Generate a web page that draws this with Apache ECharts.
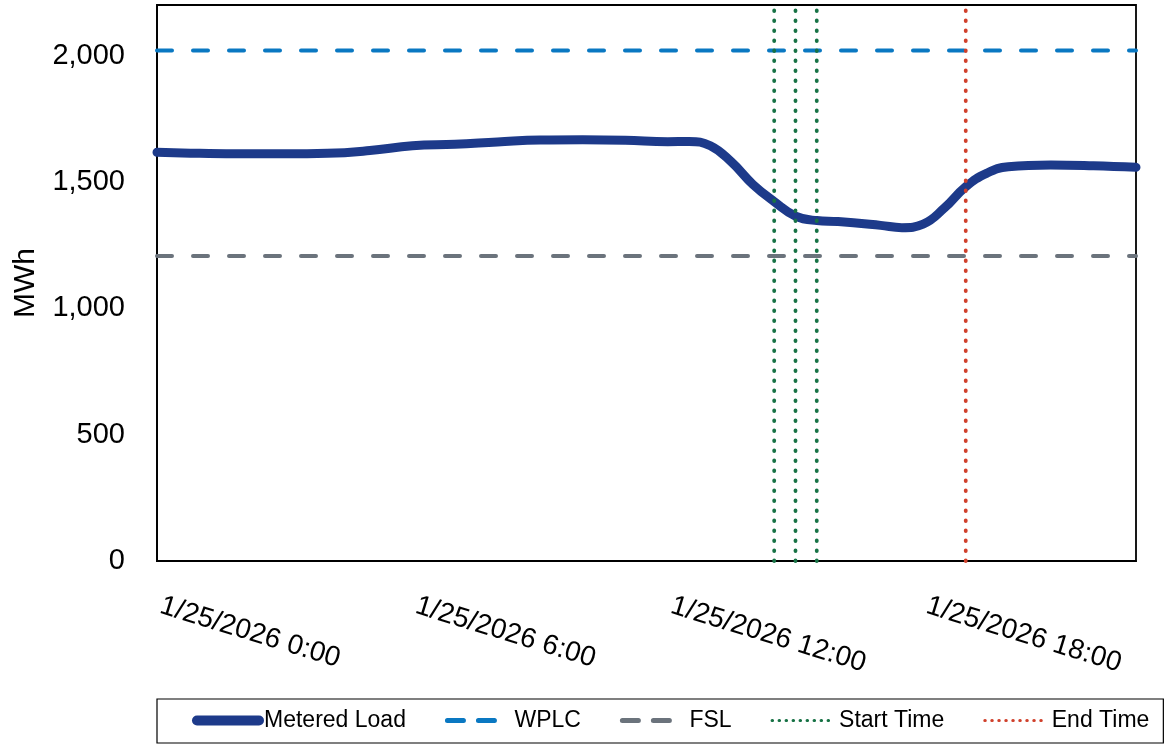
<!DOCTYPE html>
<html><head><meta charset="utf-8">
<script src="https://cdn.jsdelivr.net/npm/echarts@6/dist/echarts.min.js"></script>
<style>html,body{margin:0;padding:0;background:#fff}#c{width:1168px;height:745px}</style>
</head><body><div id="c"></div>
<script>
// ---- data ----
const times = [0,1,2,3,4,5,6,7,8,9,10,11,12,12.5,13,13.5,14,14.5,15,15.5,16,17,17.5,18,18.5,19,19.5,20,21,22,23];
const meteredLoad = [1617,1613,1611,1611,1613,1624,1643,1649,1658,1666,1667,1665,1659,1660,1643,1578,1490,1422,1365,1347,1343,1328,1319,1333,1397,1481,1535,1560,1567,1564,1558];
const wplc = 2020;
const fsl = 1207;
const startTimes = [14.5, 15, 15.5];
const endTimes = [19];
const xTickHours = [0, 6, 12, 18];
const datePrefix = '1/25/2026';
const yTicks = [0, 500, 1000, 1500, 2000];
const yMax = 2200;
const xMin = 0;
const xMax = 23;
const seriesNames = ['Metered Load', 'WPLC', 'FSL', 'Start Time', 'End Time'];

// ---- chart ----
const font = 'Liberation Sans, Arial, sans-serif';
const chart = echarts.init(document.getElementById('c'));
const dotted = { width: 3.8, type: [0.5, 9.5], cap: 'round' };
const dashed = { width: 4, type: [15, 21], cap: 'round' };
const series = [
  { name: 'WPLC', type: 'line', symbol: 'none', z: 2,
    data: [[xMin, wplc], [xMax, wplc]],
    lineStyle: Object.assign({ color: '#0a78c2' }, dashed) },
  { name: 'FSL', type: 'line', symbol: 'none', z: 2,
    data: [[xMin, fsl], [xMax, fsl]],
    lineStyle: Object.assign({ color: '#6b737c' }, dashed) },
  { name: 'Metered Load', type: 'line', symbol: 'none', smooth: 0.45, z: 3,
    data: times.map((h, i) => [h, meteredLoad[i]]),
    lineStyle: { color: '#1d3a8a', width: 9, cap: 'round', join: 'round' } }
];
startTimes.forEach(t => series.push({ name: 'Start Time', type: 'line', symbol: 'none', z: 4,
  data: [[t, 0], [t, yMax]],
  lineStyle: Object.assign({ color: '#177245' }, dotted) }));
endTimes.forEach(t => series.push({ name: 'End Time', type: 'line', symbol: 'none', z: 4,
  data: [[t, 0], [t, yMax]],
  lineStyle: Object.assign({ color: '#d0402b' }, dotted) }));

const legendLine = {
  'Metered Load': { width: 10, type: 'solid', cap: 'round' },
  'WPLC': { width: 5, type: [16, 15], cap: 'round' },
  'FSL': { width: 5, type: [16, 15], cap: 'round' },
  'Start Time': { width: 3, type: [0.5, 6.5], cap: 'round' },
  'End Time': { width: 3, type: [0.5, 6.5], cap: 'round' }
};

chart.setOption({
  animation: false,
  backgroundColor: '#fff',
  grid: { left: 157, right: 32, top: 5, bottom: 184, show: true, borderColor: '#000', borderWidth: 1.8 },
  xAxis: {
    type: 'value', min: xMin, max: xMax, interval: 6,
    axisLine: { show: true, lineStyle: { color: '#000', width: 1.8 } },
    axisTick: { show: false }, splitLine: { show: false },
    axisLabel: {
      rotate: -17, margin: 43, color: '#000', fontSize: 28, fontFamily: font,
      padding: [0, 0, 0, 4], showMaxLabel: false,
      formatter: v => xTickHours.indexOf(v) >= 0 ? datePrefix + ' ' + v + ':00' : ''
    }
  },
  yAxis: {
    type: 'value', min: 0, max: yMax, interval: 500,
    name: 'MWh', nameLocation: 'middle', nameGap: 116,
    nameTextStyle: { color: '#000', fontSize: 30, fontFamily: font },
    axisLine: { show: true, lineStyle: { color: '#000', width: 1.8 } },
    axisTick: { show: false }, splitLine: { show: false },
    axisLabel: {
      margin: 32, color: '#000', fontSize: 29, fontFamily: font, showMaxLabel: false,
      formatter: v => yTicks.indexOf(v) >= 0 ? v.toLocaleString('en-US') : ''
    }
  },
  legend: {
    left: 157, top: 699, width: 1100, orient: 'horizontal',
    borderColor: '#000', borderWidth: 1.2, padding: [10, 14, 11, 35],
    itemGap: 39, itemWidth: 62, itemHeight: 14,
    itemStyle: { opacity: 0 },
    textStyle: { fontSize: 23, fontFamily: font, color: '#000' },
    data: seriesNames.map(n => ({ name: n, lineStyle: legendLine[n] }))
  },
  series: series
});
</script></body></html>
